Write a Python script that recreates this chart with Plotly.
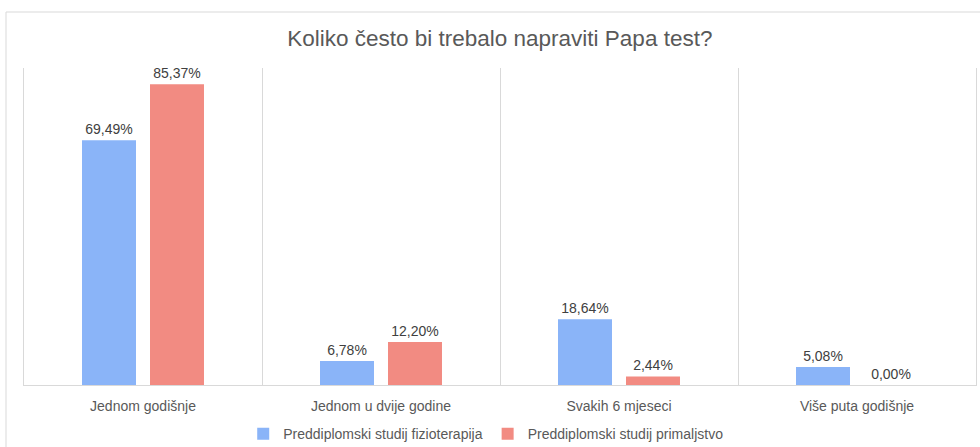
import plotly.graph_objects as go

categories = ["Jednom godišnje", "Jednom u dvije godine", "Svakih 6 mjeseci", "Više puta godišnje"]
series_names = ["Preddiplomski studij fizioterapija", "Preddiplomski studij primaljstvo"]
fizioterapija = [69.49, 6.78, 18.64, 5.08]
primaljstvo = [85.37, 12.20, 2.44, 0.00]
title_text = "Koliko često bi trebalo napraviti Papa test?"

FONT = "Liberation Sans, Arial, sans-serif"
GRID = "#d9d9d9"

fig = go.Figure()
for name, vals, color in [(series_names[0], fizioterapija, "#8AB4F8"),
                          (series_names[1], primaljstvo, "#F28B82")]:
    fig.add_trace(go.Bar(
        x=categories, y=vals, name=name,
        marker=dict(color=color, line=dict(width=0)),
        texttemplate="%{y:.2f}%", textposition="outside",
        textfont=dict(family=FONT, size=14, color="#404040"),
        cliponaxis=False,
    ))

fig.update_layout(
    width=980, height=447,
    margin=dict(l=24, r=4, t=68, b=62, autoexpand=False),
    paper_bgcolor="white", plot_bgcolor="white",
    separators=", ",
    barmode="group", bargap=0.4286, bargroupgap=0.206,
    title=dict(text=title_text, x=0.51, xanchor="center", y=1 - 38 / 447, yanchor="middle",
               font=dict(family=FONT, size=22.5, color="#595959")),
    legend=dict(orientation="h", x=0.485, xanchor="center", y=-0.155, yanchor="middle",
                font=dict(family=FONT, size=14, color="#595959"),
                itemwidth=30, tracegroupgap=0),
    xaxis=dict(type="category", tickson="boundaries", showgrid=True, gridcolor=GRID, gridwidth=1,
               showline=True, linecolor=GRID, linewidth=1, ticks="", ticklabelstandoff=8,
               tickfont=dict(family=FONT, size=14, color="#595959"), zeroline=False),
    yaxis=dict(range=[0, 90], showgrid=False, showticklabels=False, zeroline=False,
               showline=True, linecolor=GRID, linewidth=1, mirror=True, ticks=""),
    shapes=[dict(type="rect", xref="paper", yref="paper",
                 x0=(6 - 24) / 952, x1=1.2, y0=-0.6, y1=1 + (68 - 12) / 317,
                 line=dict(color=GRID, width=1), fillcolor="rgba(0,0,0,0)", layer="below")],
)

fig.write_html("out.html", config={"displayModeBar": False},
               post_script="document.body.style.margin='0';document.body.style.overflow='hidden';")
